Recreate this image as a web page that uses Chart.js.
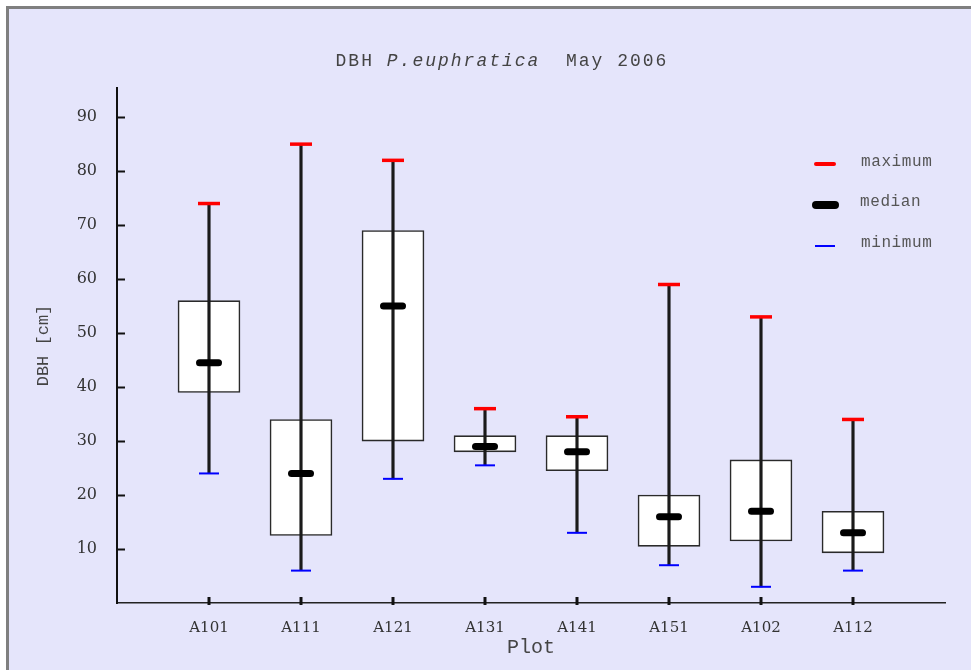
<!DOCTYPE html>
<html>
<head>
<meta charset="utf-8">
<title>DBH P. euphratica May 2006</title>
<script src="https://cdn.jsdelivr.net/npm/chart.js@4.4.1/dist/chart.umd.min.js"></script>
<style>
    html, body { margin: 0; padding: 0; background: #fff; }
    #wrap { position: relative; width: 971px; height: 670px; overflow: hidden; }
    #frame { position: absolute; left: 6px; top: 6px; right: -10px; bottom: -10px;
             background: #e5e5fb; border-left: 3px solid #7f7f7f; border-top: 3px solid #7f7f7f; }
    #chart { position: absolute; left: 0; top: 0; }
    #title { position: absolute; left: 502px; top: 61px; transform: translate(-50%, -50%);
             white-space: nowrap; font: 18px "Liberation Mono", monospace; letter-spacing: 2px; color: #444; }
    .leg { position: absolute; white-space: nowrap; font: 16px "Liberation Mono", monospace;
           letter-spacing: 0.6px; color: #555; transform: translateY(-50%); }
    .mark { position: absolute; }
</style>
</head>
<body>
<div id="wrap">
    <div id="frame"></div>
    <canvas id="chart" width="971" height="670"></canvas>
    <div id="title">DBH <i>P.euphratica</i>&nbsp; May 2006</div>

    <div class="mark" style="left:814px; top:162px; width:22px; height:4px; background:#ff0000; border-radius:2px;"></div>
    <div class="leg" style="left:861px; top:162px;">maximum</div>
    <div class="mark" style="left:812px; top:201px; width:27px; height:8px; background:#000; border-radius:4px;"></div>
    <div class="leg" style="left:860px; top:202px;">median</div>
    <div class="mark" style="left:815px; top:245px; width:20px; height:2px; background:#0000ff;"></div>
    <div class="leg" style="left:861px; top:243px;">minimum</div>
</div>

<script>
// values (DBH in cm)
var plots = ['A101', 'A111', 'A121', 'A131', 'A141', 'A151', 'A102', 'A112'];
var minimum = [24, 6, 23, 25.5, 13, 7, 3, 6];
var lowerQuartile = [39, 12.5, 30, 28, 24.5, 10.5, 11.5, 9.3];
var median = [44.5, 24, 55, 29, 28, 16, 17, 13];
var upperQuartile = [56, 34, 69, 31, 31, 20, 26.5, 17];
var maximum = [74, 85, 82, 36, 34.5, 59, 53, 34];
var yTicks = [10, 20, 30, 40, 50, 60, 70, 80, 90];

var boxData = plots.map(function (p, i) { return { x: i + 1, y: [lowerQuartile[i], upperQuartile[i]] }; });
var whiskerData = plots.map(function (p, i) { return { x: i + 1, y: [minimum[i], maximum[i]] }; });
var maxData = plots.map(function (p, i) { return { x: i + 1, y: maximum[i] }; });
var medData = plots.map(function (p, i) { return { x: i + 1, y: median[i] }; });
var minData = plots.map(function (p, i) { return { x: i + 1, y: minimum[i] }; });

// inward tick marks + rounded median marks
var axisMarks = {
    id: 'axisMarks',
    beforeDatasetDraw: function (chart, args) {
        if (args.meta.label === 'median') chart.ctx.lineCap = 'round';
    },
    afterDatasetDraw: function (chart) {
        chart.ctx.lineCap = 'butt';
    },
    afterDraw: function (chart) {
        var ctx = chart.ctx;
        var area = chart.chartArea;
        ctx.save();
        ctx.strokeStyle = '#111';
        ctx.lineWidth = 2;
        yTicks.forEach(function (v) {
            var y = Math.round(chart.scales.y.getPixelForValue(v)) + 0.5;
            ctx.beginPath();
            ctx.moveTo(area.left, y);
            ctx.lineTo(area.left + 8, y);
            ctx.stroke();
        });
        ctx.lineWidth = 3;
        plots.forEach(function (p, i) {
            var x = chart.scales.x.getPixelForValue(i + 1);
            ctx.beginPath();
            ctx.moveTo(x, area.bottom - 6);
            ctx.lineTo(x, area.bottom + 2);
            ctx.stroke();
        });
        ctx.restore();
    }
};

var ctx = document.getElementById('chart').getContext('2d');
var myChart = new Chart(ctx, {
    type: 'bar',
    data: {
        datasets: [
            {
                type: 'line',
                label: 'median',
                data: medData,
                showLine: false,
                pointStyle: 'line',
                pointRadius: 9.5,
                borderColor: '#000',
                backgroundColor: '#000',
                pointBorderWidth: 7,
                order: 0
            },
            {
                type: 'line',
                label: 'maximum',
                data: maxData,
                showLine: false,
                pointStyle: 'line',
                pointRadius: 11,
                borderColor: '#ff0000',
                backgroundColor: '#ff0000',
                pointBorderWidth: 3.5,
                order: 0
            },
            {
                type: 'line',
                label: 'minimum',
                data: minData,
                showLine: false,
                pointStyle: 'line',
                pointRadius: 10,
                borderColor: '#0000ff',
                backgroundColor: '#0000ff',
                pointBorderWidth: 2,
                order: 0
            },
            {
                label: 'range',
                data: whiskerData,
                grouped: false,
                barThickness: 2.5,
                backgroundColor: '#1a1a1a',
                borderWidth: 0,
                order: 1
            },
            {
                label: 'quartiles',
                data: boxData,
                grouped: false,
                barThickness: 62,
                backgroundColor: '#ffffff',
                borderColor: '#2a2a2a',
                borderWidth: 1.6,
                borderSkipped: false,
                order: 2
            }
        ]
    },
    options: {
        responsive: false,
        animation: false,
        events: [],
        layout: {
            padding: { top: 88, right: 26, bottom: 0, left: 0 }
        },
        scales: {
            x: {
                type: 'linear',
                offset: false,
                min: 0,
                max: 9,
                afterBuildTicks: function (scale) {
                    scale.ticks = plots.map(function (p, i) { return { value: i + 1 }; });
                },
                afterFit: function (scale) { scale.height = 67; },
                ticks: {
                    padding: 16,
                    color: '#333',
                    font: { family: 'DejaVu Serif', size: 15 },
                    callback: function (value) { return plots[value - 1]; }
                },
                grid: { drawOnChartArea: false, drawTicks: false, offset: false },
                border: { display: true, color: '#222', width: 1.5 },
                title: {
                    display: true,
                    text: 'Plot',
                    color: '#444',
                    font: { family: 'Liberation Mono', size: 20 },
                    padding: { top: 0, bottom: 10 }
                }
            },
            y: {
                min: 0,
                max: 95.4,
                afterBuildTicks: function (scale) {
                    scale.ticks = yTicks.map(function (v) { return { value: v }; });
                },
                afterFit: function (scale) { scale.width = 117; },
                ticks: {
                    padding: 20,
                    color: '#333',
                    font: { family: 'DejaVu Serif', size: 16 }
                },
                grid: { drawOnChartArea: false, drawTicks: false },
                border: { display: true, color: '#111', width: 2 },
                title: {
                    display: true,
                    text: 'DBH [cm]',
                    color: '#444',
                    font: { family: 'Liberation Mono', size: 17 },
                    padding: { top: 33, bottom: 0 }
                }
            }
        },
        plugins: {
            legend: { display: false },
            tooltip: { enabled: false },
            title: { display: false }
        }
    },
    plugins: [axisMarks]
});
</script>
</body>
</html>
